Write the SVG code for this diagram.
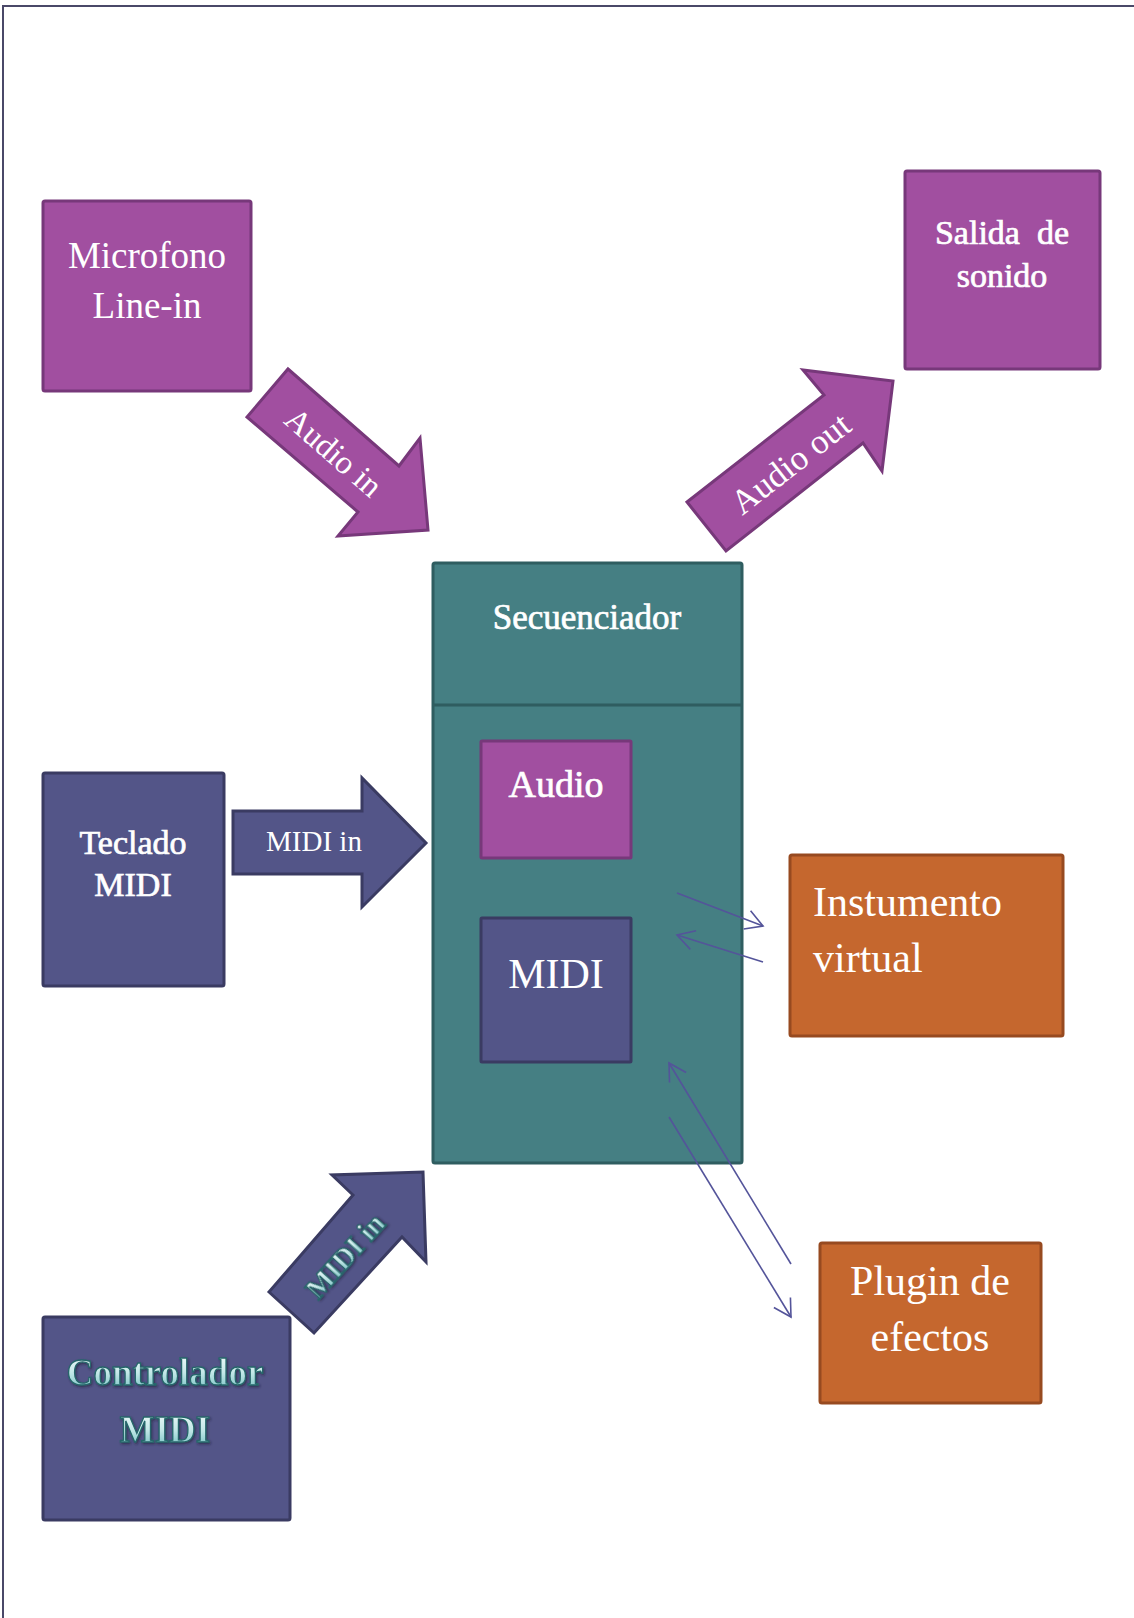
<svg xmlns="http://www.w3.org/2000/svg" width="1134" height="1618" viewBox="0 0 1134 1618">
  <style>
    .purple { fill: #a14fa0; stroke: #77387a; stroke-width: 3; }
    .indigo { fill: #535588; stroke: #3a3b62; stroke-width: 3; }
    .teal { fill: #457f83; stroke: #2f5d60; stroke-width: 3; }
    .orange { fill: #c5672e; stroke: #974a20; stroke-width: 3; }
    .label { font-family: "Liberation Serif", "Times New Roman", serif; fill: #ffffff; }
    .semi { stroke: #ffffff; stroke-width: 0.7; }
    .mid { text-anchor: middle; }
    .emboss { font-family: "Liberation Serif", "Times New Roman", serif; font-weight: bold; fill: url(#embossFill); stroke: #25666a; stroke-width: 1.3; text-anchor: middle; filter: url(#shade); }
    .link { fill: none; stroke: #54549a; stroke-width: 1.6; marker-end: url(#open); }
  </style>
  <defs>
    <linearGradient id="embossFill" x1="0" y1="0" x2="0" y2="1">
      <stop offset="0" stop-color="#f4fcfc"/>
      <stop offset="0.5" stop-color="#c4e8e8"/>
      <stop offset="1" stop-color="#6cbcbe"/>
    </linearGradient>
    <filter id="shade" x="-10%" y="-20%" width="120%" height="150%">
      <feDropShadow dx="1.2" dy="1.5" stdDeviation="1" flood-color="#1a1a33" flood-opacity="0.6"/>
    </filter>
    <marker id="open" viewBox="0 0 20 20" markerUnits="userSpaceOnUse" markerWidth="20" markerHeight="20" refX="18" refY="10" orient="auto" overflow="visible">
      <path d="M1,0.3 L18,10 L1,19.7" fill="none" stroke="#54549a" stroke-width="1.6"/>
    </marker>
  </defs>

  <rect width="1134" height="1618" fill="#ffffff"/>

  <!-- page frame: top and left rule -->
  <path d="M3,1618 V6 H1134" fill="none" stroke="#4a4868" stroke-width="2"/>

  <g id="microfono">
    <rect class="purple" x="43" y="201" width="208" height="190" rx="2"/>
    <text class="label mid" x="147" y="268" font-size="37">Microfono</text>
    <text class="label mid" x="147" y="318" font-size="37">Line-in</text>
  </g>

  <g id="salida">
    <rect class="purple" x="905" y="171" width="195" height="198" rx="2"/>
    <text class="label semi mid" x="1002" y="244" font-size="34" xml:space="preserve">Salida  de</text>
    <text class="label semi mid" x="1002" y="287" font-size="34">sonido</text>
  </g>

  <g id="secuenciador">
    <rect class="teal" x="433" y="563" width="309" height="600" rx="2"/>
    <line x1="433" y1="705" x2="742" y2="705" stroke="#2f5d60" stroke-width="3"/>
    <text class="label semi mid" x="587" y="629" font-size="35">Secuenciador</text>
  </g>

  <g id="audio">
    <rect class="purple" x="481" y="741" width="150" height="117" rx="1"/>
    <text class="label semi mid" x="556" y="797" font-size="38">Audio</text>
  </g>

  <g id="midi">
    <rect class="indigo" x="481" y="918" width="150" height="144" rx="1"/>
    <text class="label mid" x="556" y="988" font-size="42">MIDI</text>
  </g>

  <g id="teclado">
    <rect class="indigo" x="43" y="773" width="181" height="213" rx="2"/>
    <text class="label semi mid" x="133" y="854" font-size="34">Teclado</text>
    <text class="label semi mid" x="133" y="896" font-size="34">MIDI</text>
  </g>

  <g id="instrumento">
    <rect class="orange" x="790" y="855" width="273" height="181" rx="2"/>
    <text class="label" x="813" y="916" font-size="42">Instumento</text>
    <text class="label" x="813" y="972" font-size="42">virtual</text>
  </g>

  <g id="plugin">
    <rect class="orange" x="820" y="1243" width="221" height="160" rx="2"/>
    <text class="label mid" x="930" y="1295" font-size="42">Plugin de</text>
    <text class="label mid" x="930" y="1351" font-size="42">efectos</text>
  </g>

  <g id="controlador">
    <rect class="indigo" x="43" y="1317" width="247" height="203" rx="2"/>
    <text class="emboss" x="165" y="1385" font-size="37">Controlador</text>
    <text class="emboss" x="165" y="1442" font-size="37">MIDI</text>
  </g>

  <g id="connectors">
    <!-- block arrows with their labels -->
    <g id="audio-in">
      <polygon class="purple" points="288,369 399,466 420,438 428,530 338,536 358,512 247,417"/>
      <text class="label mid" x="0" y="0" font-size="33" transform="translate(333,453) rotate(41)" dy="10">Audio in</text>
    </g>
    <g id="audio-out">
      <polygon class="purple" points="687,502 824,395 803,370 893,381 882,471 863,443 726,551"/>
      <text class="label mid" x="0" y="0" font-size="35" transform="translate(791,464) rotate(-38)" dy="11">Audio out</text>
    </g>
    <g id="midi-in-teclado">
      <polygon class="indigo" points="233,811 362,811 362,778 426,843 362,907 362,874 233,874"/>
      <text class="label mid" x="314" y="851" font-size="29">MIDI in</text>
    </g>
    <g id="midi-in-controlador">
      <polygon class="indigo" points="269,1292 353,1195 332,1175 423,1172 426,1262 402,1237 314,1333"/>
      <text class="emboss" x="0" y="0" font-size="29" transform="translate(345,1256) rotate(-48)" dy="10">MIDI in</text>
    </g>

    <!-- thin links between the sequencer and the plugins -->
    <line class="link" x1="677" y1="893" x2="763" y2="926"/>
    <line class="link" x1="763" y1="962" x2="677" y2="935"/>
    <line class="link" x1="791" y1="1264" x2="669" y2="1063"/>
    <line class="link" x1="669" y1="1117" x2="791" y2="1317"/>
  </g>
</svg>
